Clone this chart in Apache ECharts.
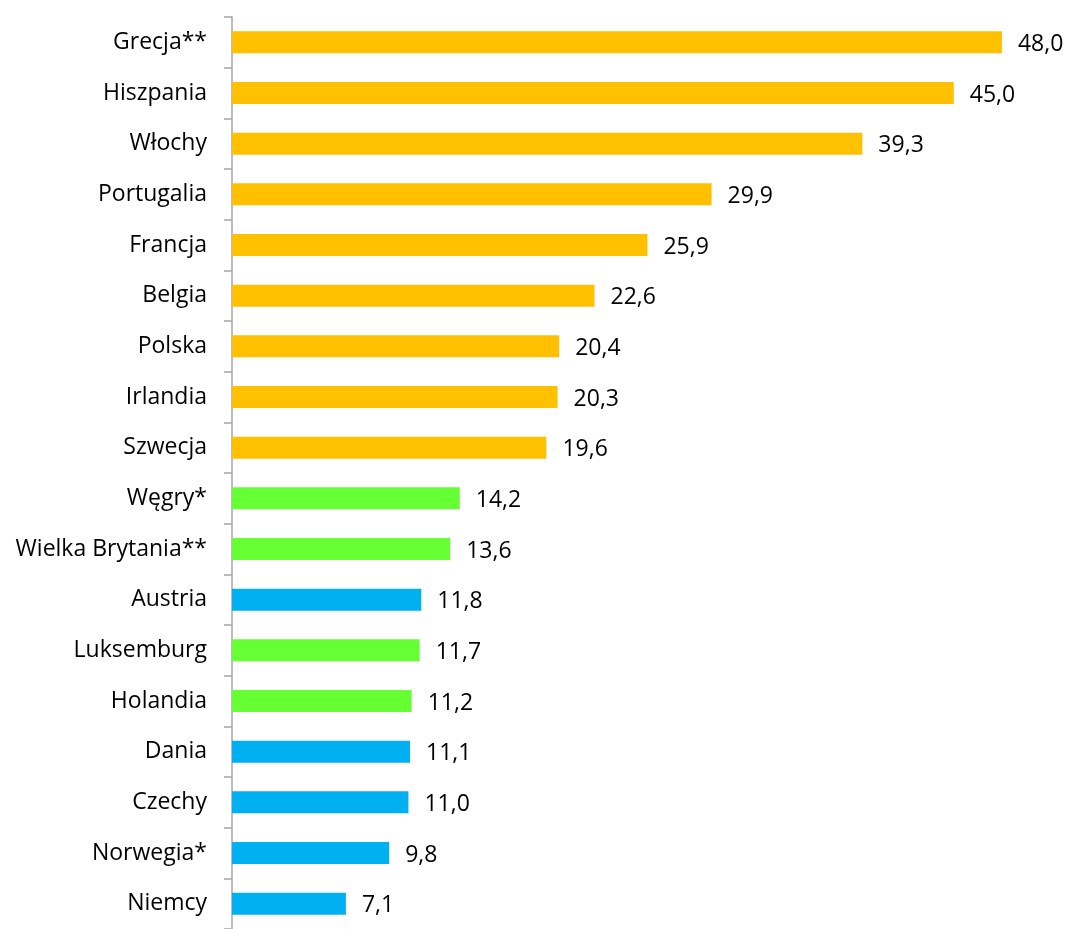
<!DOCTYPE html>
<html>
<head>
<meta charset="utf-8">
<script src="https://cdn.jsdelivr.net/npm/echarts@6/dist/echarts.min.js"></script>
<style>
  html, body { margin: 0; padding: 0; background: #fff; }
  #chart { width: 1067px; height: 929px; }
</style>
</head>
<body>
<div id="chart"></div>
<script>
const countries = ['Grecja**', 'Hiszpania', 'Włochy', 'Portugalia', 'Francja', 'Belgia', 'Polska',
  'Irlandia', 'Szwecja', 'Węgry*', 'Wielka Brytania**', 'Austria', 'Luksemburg', 'Holandia',
  'Dania', 'Czechy', 'Norwegia*', 'Niemcy']
const values = [48.0, 45.0, 39.3, 29.9, 25.9, 22.6, 20.4, 20.3, 19.6, 14.2, 13.6, 11.8, 11.7, 11.2,
  11.1, 11.0, 9.8, 7.1]
// group of each bar: high / mid / low
const groups = ['high', 'high', 'high', 'high', 'high', 'high', 'high', 'high', 'high', 'mid', 'mid',
  'low', 'mid', 'mid', 'low', 'low', 'low', 'low']

const groupColors = { high: '#FFC000', mid: '#66FF33', low: '#00B0F0' }
const font = '"Open Sans", sans-serif'

const chart = echarts.init(document.getElementById('chart'))
chart.setOption({
  animation: false,
  grid: { left: 232, top: 17, width: 802, height: 916 },
  xAxis: {
    type: 'value',
    min: 0,
    max: 50,
    show: false
  },
  yAxis: {
    type: 'category',
    inverse: true,
    data: countries,
    axisLine: { show: true, lineStyle: { color: '#A6A6A6', width: 1.5 } },
    axisTick: { show: true, length: 8, lineStyle: { color: '#A6A6A6', width: 1.5 } },
    axisLabel: { color: '#000', fontSize: 23, fontFamily: font, margin: 25 }
  },
  series: [{
    type: 'bar',
    barWidth: 22,
    data: values.map((v, i) => ({ value: v, itemStyle: { color: groupColors[groups[i]] } })),
    label: {
      show: true,
      position: 'right',
      distance: 16,
      offset: [0, 2],
      color: '#000',
      fontSize: 23,
      fontFamily: font,
      formatter: p => p.value.toFixed(1).replace('.', ',')
    }
  }]
})
</script>
</body>
</html>
